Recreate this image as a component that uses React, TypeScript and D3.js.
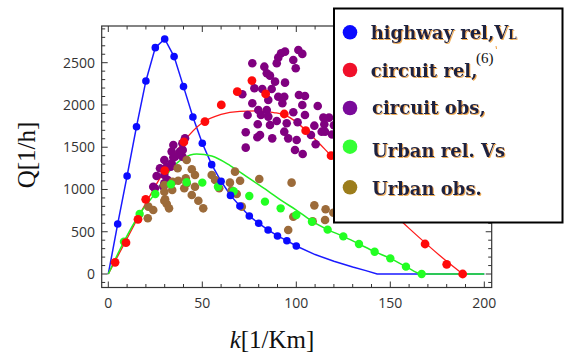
import React from 'react';
import * as d3 from 'd3';

type Pt = [number, number];

// highway relation (blue), every 5 veh/km
const highwayRel: Pt[] = [
  [5, 592], [10, 1160], [15, 1743], [20, 2284], [25, 2678], [30, 2781], [35, 2572],
  [40, 2217], [45, 1858], [50, 1547], [55, 1294], [60, 1097], [65, 930], [70, 805],
  [75, 686], [80, 600], [85, 521], [90, 450], [95, 394], [100, 331],
];
const highwayTail: Pt[] = [[110, 230], [120, 150], [130, 82], [137, 40], [143, 0], [200, 0]];

// circuit relation (red)
const circuitRel: Pt[] = [
  [3.6, 138], [9.4, 371], [15.8, 647], [19.9, 884], [30, 1223], [40.2, 1562], [51.4, 1803],
  [60.1, 2000], [68.6, 2157], [76.4, 2288], [83.7, 2130], [93.6, 1893], [105, 1696],
  [118.5, 1400], [168.5, 355], [180, 115], [188.5, 0],
];
const circuitCurve: Pt[] = [
  [0, 0], [10, 420], [20, 840], [30, 1230], [40, 1565], [50, 1790], [60, 1890], [70, 1925],
  [80, 1930], [88, 1910], [94, 1880], [100, 1800], [105, 1700], [112, 1550], [118.5, 1400],
  [140, 960], [160, 540], [180, 150], [188.5, 0],
];

// urban relation (green)
const urbanRel: Pt[] = [
  [8.33, 383], [16.67, 710], [25, 947], [33.33, 1061], [41.67, 1085], [50, 1081],
  [58.33, 1033], [66.67, 980], [75, 923], [83.33, 856], [91.67, 777], [100, 698],
  [108.33, 619], [116.67, 525], [125, 445], [133.33, 355], [141.67, 264], [150, 185],
  [158.33, 87], [166.67, 0],
];
const urbanCurve: Pt[] = [
  [0, 0], [8.33, 383], [16.67, 710], [25, 960], [30, 1140], [35, 1280], [40, 1370],
  [47, 1420], [55, 1395], [65, 1280], [75, 1130], [85, 980], [92, 870], [100, 757],
  [108.33, 625], [116.67, 525], [125, 445], [133.33, 355], [141.67, 264], [150, 185],
  [158.33, 87], [166.67, 0], [200, 0],
];

// circuit observations (purple)
const circuitObs: Pt[] = [
  [40.8, 1606], [39.4, 1547], [34.6, 1527], [33.7, 1448], [38.1, 1448], [35.5, 1389],
  [39.4, 1389], [29.8, 1349], [33.7, 1310], [31.1, 1270], [27.5, 1251], [25.7, 1160],
  [29.8, 1172], [31.6, 1112], [24.8, 1014], [29.8, 1073], [23.9, 1033], [29.3, 1033],
  [34.6, 1381], [39.6, 1467], [33.2, 1270],
  [76.6, 2493], [83, 2453], [84.3, 2375], [86, 2347], [90.4, 2560], [91.9, 2612], [94, 2631],
  [89.6, 2493], [98.4, 2532], [99.7, 2434], [101.1, 2651], [103.2, 2604], [88.7, 2276],
  [94, 2264], [77.7, 2198], [81.9, 2189], [86.9, 2189], [71.3, 2127], [85.1, 2059],
  [90.4, 2098], [93.6, 2098], [92.6, 2020], [101.4, 2118], [104.6, 2106], [76.6, 2020],
  [79.8, 1941], [84.3, 1941], [103.2, 2000], [111.4, 1988], [74.1, 1882], [81.2, 1882],
  [85.1, 1862], [98.4, 1913], [104.6, 1882], [79.5, 1771], [86, 1763], [89.6, 1811],
  [94.9, 1783], [100.7, 1795], [109.6, 1755], [114.4, 1850], [117.4, 1850], [114.9, 1771],
  [73.1, 1677], [80.7, 1645], [87.2, 1605], [93.6, 1684], [95.7, 1605], [100.2, 1586],
  [107.8, 1645], [113.5, 1684], [73.1, 1495], [99.3, 1467], [110.3, 1535], [103.4, 1420],
  [79.3, 1618], [115.3, 1684], [120, 1760], [122, 1800], [119, 1650],
];

// urban observations (brown)
const urbanObs: Pt[] = [
  [41.7, 1349], [36.9, 1251], [44.4, 1239], [46.1, 1172], [34.2, 1092], [37.2, 1104],
  [41.2, 1132], [41.7, 1073], [29.8, 1053], [29.8, 974], [44.4, 935], [29.8, 867],
  [47.9, 867], [31.1, 828], [32.3, 777], [50.5, 777], [23.9, 757], [21.3, 797], [21, 660],
  [34, 994], [46.1, 1033], [30.2, 884], [40.4, 1014],
  [55, 1172], [56.8, 1112], [59, 1014], [64.7, 1081], [67.4, 1211], [70.1, 1104],
  [65.6, 986], [68.3, 947], [71, 797], [80.3, 1124], [97.5, 1081], [95.7, 521], [98.4, 678],
  [109.6, 812], [115.6, 766], [108.7, 625], [115.3, 639], [119.7, 725],
];

const xMajor = [0, 50, 100, 150, 200];
const yMajor = [0, 500, 1000, 1500, 2000, 2500];

const legendColors = ['#0a0aff', '#f0102a', '#7a0a9a', '#33ff33', '#9c7d1c'];

const F = { left: 101.7, right: 491.7, top: 26, bottom: 287.5 };

export default function App() {
  const x = d3.scaleLinear().domain([0, 200]).range([108.3, 484.3]);
  const y = d3.scaleLinear().domain([0, 2500]).range([274, 62.7]);
  const straight = d3.line<Pt>().x(d => x(d[0])).y(d => y(d[1]));
  const smooth = d3.line<Pt>().x(d => x(d[0])).y(d => y(d[1])).curve(d3.curveMonotoneX);

  const xMinor = d3.range(0, 201, 10);
  const yMinor = d3.range(-100, 2901, 100);

  const dots = (data: Pt[], color: string, r: number) =>
    data.map((d, i) => <circle key={i} cx={x(d[0])} cy={y(d[1])} r={r} fill={color} />);

  const ticksColor = '#333';
  const legendText = { fontFamily: 'DejaVu Serif', fontWeight: 700, fontSize: 18, fill: '#1c2340', filter: 'url(#halo)' } as const;
  const rowsY = [32.3, 70, 108, 146.7, 187.3];

  return (
    <svg width={564} height={356} style={{ position: 'absolute', left: 0, top: 0, background: '#fff' }}>
      <defs>
        <filter id="halo" x="-5%" y="-20%" width="110%" height="140%">
          <feDropShadow dx="1" dy="1" stdDeviation="0.6" floodColor="#e8901e" floodOpacity="0.75" />
        </filter>
      </defs>

      {/* frame */}
      <rect x={F.left} y={F.top} width={F.right - F.left} height={F.bottom - F.top} fill="none" stroke={ticksColor} strokeWidth={1.2} />
      {xMinor.map(v => {
        const len = v % 50 === 0 ? 6 : 3.5;
        return (
          <g key={'xt' + v} stroke={ticksColor} strokeWidth={1}>
            <line x1={x(v)} x2={x(v)} y1={F.bottom} y2={F.bottom - len} />
            <line x1={x(v)} x2={x(v)} y1={F.top} y2={F.top + len} />
          </g>
        );
      })}
      {yMinor.map(v => {
        const len = v % 500 === 0 ? 6 : 3.5;
        return (
          <g key={'yt' + v} stroke={ticksColor} strokeWidth={1}>
            <line x1={F.left} x2={F.left + len} y1={y(v)} y2={y(v)} />
            <line x1={F.right} x2={F.right - len} y1={y(v)} y2={y(v)} />
          </g>
        );
      })}
      {xMajor.map(v => (
        <text key={'xl' + v} x={x(v)} y={308} textAnchor="middle" fontFamily="Open Sans" fontSize={14} fill="#333">{v}</text>
      ))}
      {yMajor.map(v => (
        <text key={'yl' + v} x={95} y={y(v) + 5} textAnchor="end" fontFamily="Open Sans" fontSize={14} fill="#333">{v}</text>
      ))}

      {/* axis titles */}
      <text x={272} y={348} textAnchor="middle" fontFamily="Liberation Serif" fontSize={25} fill="#111">
        <tspan fontStyle="italic">k</tspan>[1/Km]
      </text>
      <text transform="translate(35,155) rotate(-90)" textAnchor="middle" fontFamily="Liberation Serif" fontSize={25} fill="#111">Q[1/h]</text>

      {/* curves */}
      <path d={straight([[0, 0], ...highwayRel, ...highwayTail]) || ''} fill="none" stroke="#1a1aff" strokeWidth={1.5} />
      <path d={smooth(circuitCurve) || ''} fill="none" stroke="#ff1a1a" strokeWidth={1.3} />
      <path d={smooth(urbanCurve) || ''} fill="none" stroke="#22ee22" strokeWidth={1.5} />

      {/* points */}
      {dots(circuitObs, '#800080', 4.3)}
      {dots(urbanObs, '#9c6b3a', 4.3)}
      {dots(urbanRel, '#22ff22', 4.2)}
      {dots(circuitRel, '#ff0a0a', 4.4)}
      {dots(highwayRel, '#0a0aff', 3.8)}

      {/* legend */}
      <rect x={334} y={8.5} width={228.5} height={214} fill="#fff" stroke="#000" strokeWidth={2} />
      {legendColors.map((c, i) => (
        <circle key={'lg' + i} cx={350} cy={rowsY[i]} r={7.3} fill={c} />
      ))}
      <text x={370.7} y={39.3} {...legendText}>highway rel,V<tspan fontSize={12}>L</tspan></text>
      <text x={370.7} y={77} {...legendText}>circuit rel,</text>
      <text x={476} y={62.5} fontFamily="Liberation Serif" fontSize={15} fill="#111">(6)</text>
      <line x1={496} y1={46} x2={496.5} y2={49} stroke="#f0a040" strokeWidth={1} />
      <text x={372} y={114.3} {...legendText}>circuit obs,</text>
      <text x={372} y={156.5} {...legendText}>Urban rel. Vs</text>
      <text x={372} y={195} {...legendText}>Urban obs.</text>
    </svg>
  );
}
